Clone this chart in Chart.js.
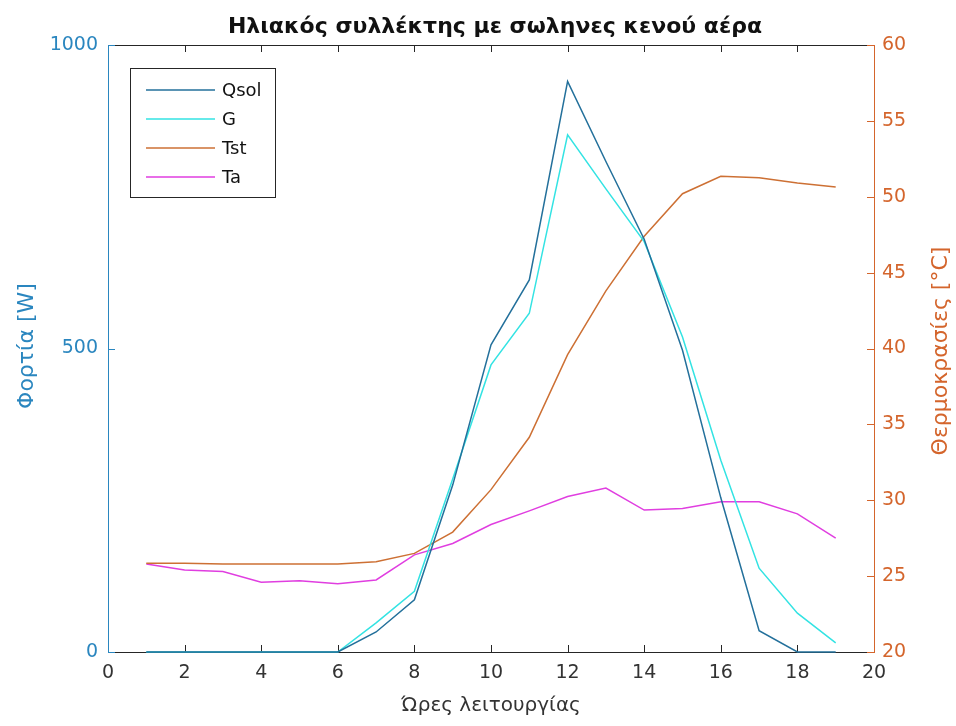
<!DOCTYPE html>
<html>
<head>
<meta charset="utf-8">
<script src="https://cdn.jsdelivr.net/npm/chart.js@4.4.1/dist/chart.umd.min.js"></script>
<style>
  html, body { margin: 0; padding: 0; background: #fff; }
  #wrap { width: 956px; height: 726px; }
</style>
</head>
<body>
<div id="wrap"><canvas id="chart" width="956" height="726"></canvas></div>
<script>
// operating hours along the x-axis
let hours = [1, 2, 3, 4, 5, 6, 7, 8, 9, 10, 11, 12, 13, 14, 15, 16, 17, 18, 19];

// loads [W] (left axis)
let qsol = [0, 0, 0, 0, 0, 0, 33, 86, 275, 506, 613, 940, 808, 680, 497, 254, 35, 0, 0];
let gRad = [0, 0, 0, 0, 0, 0, 48, 100, 285, 473, 558, 852, 763, 676, 519, 316, 138, 64, 15];

// temperatures [°C] (right axis)
let tst = [25.85, 25.85, 25.8, 25.8, 25.8, 25.8, 25.95, 26.5, 27.9, 30.7, 34.15, 39.6, 43.8, 47.4, 50.2, 51.35, 51.25, 50.9, 50.65];
let ta = [25.8, 25.4, 25.3, 24.6, 24.7, 24.5, 24.75, 26.4, 27.15, 28.4, 29.3, 30.25, 30.8, 29.35, 29.45, 29.9, 29.9, 29.1, 27.5];

let xTicks = [0, 2, 4, 6, 8, 10, 12, 14, 16, 18, 20];
let leftTicks = [0, 500, 1000];
let rightTicks = [20, 25, 30, 35, 40, 45, 50, 55, 60];

const TITLE = 'Ηλιακός συλλέκτης με σωληνες κενού αέρα';
const LEFT_COLOR = '#2a86bf';
const RIGHT_COLOR = '#d4652c';
const FONT = "'DejaVu Sans', sans-serif";

function points(values) {
  return hours.map((h, i) => ({ x: h, y: values[i] }));
}

// box around the axes with ticks pointing inwards
const frame = {
  id: 'frame',
  beforeDatasetsDraw(chart) {
    const { ctx, chartArea: a, scales } = chart;
    const len = 7;
    ctx.save();
    ctx.lineWidth = 1;
    ctx.strokeStyle = '#262626';
    ctx.beginPath();
    ctx.moveTo(a.left, a.top + 0.5);
    ctx.lineTo(a.right, a.top + 0.5);
    ctx.moveTo(a.left, a.bottom + 0.5);
    ctx.lineTo(a.right, a.bottom + 0.5);
    xTicks.forEach(v => {
      const px = Math.round(scales.x.getPixelForValue(v)) + 0.5;
      ctx.moveTo(px, a.bottom);
      ctx.lineTo(px, a.bottom - len);
      ctx.moveTo(px, a.top);
      ctx.lineTo(px, a.top + len);
    });
    ctx.stroke();

    ctx.strokeStyle = LEFT_COLOR;
    ctx.beginPath();
    ctx.moveTo(a.left + 0.5, a.top);
    ctx.lineTo(a.left + 0.5, a.bottom + 1);
    leftTicks.forEach(v => {
      const py = Math.round(scales.y.getPixelForValue(v)) + 0.5;
      ctx.moveTo(a.left, py);
      ctx.lineTo(a.left + len, py);
    });
    ctx.stroke();

    ctx.strokeStyle = RIGHT_COLOR;
    ctx.beginPath();
    ctx.moveTo(a.right + 0.5, a.top);
    ctx.lineTo(a.right + 0.5, a.bottom + 1);
    rightTicks.forEach(v => {
      const py = Math.round(scales.y2.getPixelForValue(v)) + 0.5;
      ctx.moveTo(a.right, py);
      ctx.lineTo(a.right - len, py);
    });
    ctx.stroke();
    ctx.restore();
  }
};

// title centred over the axes, both y titles read bottom-to-top
const texts = {
  id: 'texts',
  afterDraw(chart) {
    const { ctx, chartArea: a } = chart;
    ctx.save();
    ctx.textAlign = 'center';
    ctx.textBaseline = 'middle';
    ctx.font = 'bold 22px ' + FONT;
    ctx.fillStyle = '#111';
    ctx.fillText(TITLE, (a.left + a.right) / 2 + 4, 27);

    ctx.font = '22px ' + FONT;
    [[27, 346, 'Φορτία [W]', LEFT_COLOR], [941, 351, 'Θερμοκρασίες [°C]', RIGHT_COLOR]].forEach(([x, y, text, color]) => {
      ctx.save();
      ctx.translate(x, y);
      ctx.rotate(-Math.PI / 2);
      ctx.fillStyle = color;
      ctx.fillText(text, 0, 0);
      ctx.restore();
    });
    ctx.restore();
  }
};

// legend box in the upper left corner of the plot
const boxLegend = {
  id: 'boxLegend',
  afterDraw(chart) {
    const { ctx, chartArea: a } = chart;
    const x0 = a.left + 22, y0 = a.top + 23;
    const w = 145, h = 129, step = 29;
    ctx.save();
    ctx.fillStyle = '#fff';
    ctx.fillRect(x0, y0, w, h);
    ctx.strokeStyle = '#262626';
    ctx.lineWidth = 1;
    ctx.strokeRect(x0 + 0.5, y0 + 0.5, w, h);
    ctx.font = '18px ' + FONT;
    ctx.textBaseline = 'middle';
    chart.data.datasets.forEach((ds, i) => {
      const yy = y0 + 22 + i * step;
      ctx.strokeStyle = ds.borderColor;
      ctx.lineWidth = 1.5;
      ctx.beginPath();
      ctx.moveTo(x0 + 16, yy);
      ctx.lineTo(x0 + 85, yy);
      ctx.stroke();
      ctx.fillStyle = '#111';
      ctx.fillText(ds.label, x0 + 92, yy + 1);
    });
    ctx.restore();
  }
};

const ctx = document.getElementById('chart');
new Chart(ctx, {
  type: 'line',
  data: {
    datasets: [
      { label: 'Qsol', data: points(qsol), yAxisID: 'y', borderColor: '#23709b' },
      { label: 'G', data: points(gRad), yAxisID: 'y', borderColor: '#33e3e3' },
      { label: 'Tst', data: points(tst), yAxisID: 'y2', borderColor: '#cd7034' },
      { label: 'Ta', data: points(ta), yAxisID: 'y2', borderColor: '#e03ee0' }
    ]
  },
  options: {
    responsive: false,
    animation: false,
    devicePixelRatio: 1,
    layout: { padding: { top: 45 } },
    datasets: {
      line: { borderWidth: 1.5, pointRadius: 0, tension: 0, clip: false }
    },
    plugins: {
      legend: { display: false },
      tooltip: { enabled: false },
      title: { display: false }
    },
    scales: {
      x: {
        type: 'linear',
        min: 0,
        max: 20,
        afterBuildTicks: s => { s.ticks = xTicks.map(v => ({ value: v })); },
        afterFit: s => { s.height = 74; },
        grid: { display: false, drawTicks: false },
        border: { display: false },
        ticks: { color: '#333', padding: 10, font: { family: FONT, size: 19 } },
        title: {
          display: true,
          text: 'Ώρες λειτουργίας',
          color: '#333',
          font: { family: FONT, size: 20 },
          padding: { top: 0, bottom: 8 }
        }
      },
      y: {
        type: 'linear',
        position: 'left',
        min: 0,
        max: 1000,
        afterBuildTicks: s => { s.ticks = leftTicks.map(v => ({ value: v })); },
        afterFit: s => { s.width = 108; },
        grid: { display: false, drawTicks: false },
        border: { display: false },
        ticks: {
          color: LEFT_COLOR,
          padding: 10,
          font: { family: FONT, size: 19 },
          callback: v => String(v)
        }
      },
      y2: {
        type: 'linear',
        position: 'right',
        min: 20,
        max: 60,
        afterBuildTicks: s => { s.ticks = rightTicks.map(v => ({ value: v })); },
        afterFit: s => { s.width = 82; },
        grid: { display: false, drawTicks: false },
        border: { display: false },
        ticks: { color: RIGHT_COLOR, padding: 8, font: { family: FONT, size: 19 } }
      }
    }
  },
  plugins: [frame, texts, boxLegend]
});
</script>
</body>
</html>
